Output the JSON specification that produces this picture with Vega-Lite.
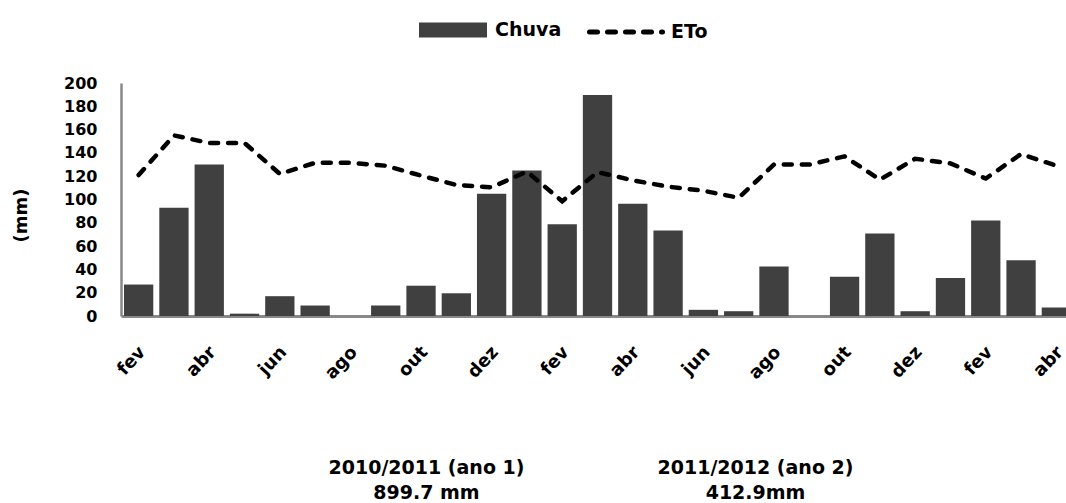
{
  "$schema": "https://vega.github.io/schema/vega-lite/v6.json",
  "width": 953,
  "height": 233,
  "autosize": {"type": "none"},
  "padding": {"left": 121, "top": 83, "right": 0, "bottom": 187},
  "background": "white",
  "config": {"view": {"stroke": null}, "font": "DejaVu Sans"},
  "data": {
    "values": [
      {"mes": "fev/10", "chuva": 27, "eto": 121},
      {"mes": "mar/10", "chuva": 93, "eto": 155},
      {"mes": "abr/10", "chuva": 130, "eto": 148.5},
      {"mes": "mai/10", "chuva": 2, "eto": 148.5},
      {"mes": "jun/10", "chuva": 17, "eto": 122},
      {"mes": "jul/10", "chuva": 9, "eto": 131.5},
      {"mes": "ago/10", "chuva": 0, "eto": 131.5},
      {"mes": "set/10", "chuva": 9, "eto": 129},
      {"mes": "out/10", "chuva": 26, "eto": 120.5},
      {"mes": "nov/10", "chuva": 19.5, "eto": 112.5},
      {"mes": "dez/10", "chuva": 105, "eto": 110.5},
      {"mes": "jan/11", "chuva": 125, "eto": 124},
      {"mes": "fev/11", "chuva": 78.7, "eto": 98.5},
      {"mes": "mar/11", "chuva": 189.6, "eto": 123.5},
      {"mes": "abr/11", "chuva": 96.3, "eto": 116.5},
      {"mes": "mai/11", "chuva": 73.4, "eto": 111},
      {"mes": "jun/11", "chuva": 5.3, "eto": 107.5},
      {"mes": "jul/11", "chuva": 4.1, "eto": 101.5},
      {"mes": "ago/11", "chuva": 42.5, "eto": 130},
      {"mes": "set/11", "chuva": 0, "eto": 130},
      {"mes": "out/11", "chuva": 33.6, "eto": 137},
      {"mes": "nov/11", "chuva": 70.8, "eto": 117},
      {"mes": "dez/11", "chuva": 4.1, "eto": 135},
      {"mes": "jan/12", "chuva": 32.7, "eto": 131},
      {"mes": "fev/12", "chuva": 82, "eto": 118},
      {"mes": "mar/12", "chuva": 47.9, "eto": 139},
      {"mes": "abr/12", "chuva": 7.3, "eto": 129}
    ]
  },
  "encoding": {
    "x": {
      "field": "mes",
      "type": "ordinal",
      "sort": null,
      "scale": {"paddingInner": 0.17, "paddingOuter": 0.085},
      "axis": {
        "values": ["fev/10", "abr/10", "jun/10", "ago/10", "out/10", "dez/10", "fev/11", "abr/11", "jun/11", "ago/11", "out/11", "dez/11", "fev/12", "abr/12"],
        "labelExpr": "substring(datum.label, 0, 3)",
        "labelAngle": -47,
        "labelAlign": "right",
        "labelBaseline": "middle",
        "labelPadding": 33,
        "labelOffset": 4,
        "labelFont": "DejaVu Sans",
        "labelFontWeight": "bold",
        "labelFontSize": 18,
        "labelColor": "black",
        "ticks": false,
        "tickSize": 0,
        "domainColor": "#888888",
        "domainWidth": 3,
        "grid": false,
        "title": ["2010/2011 (ano 1)", "899.7 mm"],
        "titleFont": "DejaVu Sans",
        "titleFontWeight": "bold",
        "titleFontSize": 19,
        "titleColor": "black",
        "titleX": 305,
        "titleY": 157,
        "titleAlign": "center",
        "titleAnchor": null,
        "titleBaseline": "alphabetic",
        "titleLineHeight": 25
      }
    }
  },
  "layer": [
    {
      "mark": {"type": "bar", "color": "#404040"},
      "encoding": {
        "y": {
          "field": "chuva",
          "type": "quantitative",
          "scale": {"domain": [0, 200], "nice": false},
          "axis": {
            "values": [0, 20, 40, 60, 80, 100, 120, 140, 160, 180, 200],
            "labelFont": "DejaVu Sans",
            "labelFontWeight": "bold",
            "labelFontSize": 16,
            "labelColor": "black",
            "labelPadding": 24,
            "ticks": false,
            "tickSize": 0,
            "grid": false,
            "domainColor": "#888888",
            "domainWidth": 2.5,
            "labelOverlap": false,
            "title": "(mm)",
            "titleFont": "DejaVu Sans",
            "titleFontWeight": "bold",
            "titleFontSize": 18,
            "titleColor": "black",
            "titleX": -100,
            "titleY": 132,
            "titleAngle": -90,
            "titleAlign": "center",
            "titleBaseline": "middle"
          }
        },
        "color": {
          "datum": "Chuva",
          "scale": {"range": ["#404040"]},
          "legend": {
            "orient": "none",
            "legendX": 297,
            "legendY": -88,
            "title": null,
            "symbolType": "M-1,-0.22H1V0.22H-1Z",
            "symbolSize": 4624,
            "labelOffset": 7,
            "labelFont": "DejaVu Sans",
            "labelFontWeight": "bold",
            "labelFontSize": 19,
            "labelColor": "black"
          }
        }
      }
    },
    {
      "mark": {"type": "line", "color": "black", "strokeWidth": 4.5, "strokeCap": "round"},
      "encoding": {
        "y": {
          "field": "eto",
          "type": "quantitative",
          "scale": {"domain": [0, 200], "nice": false},
          "axis": {
            "orient": "right",
            "domain": false,
            "ticks": false,
            "labels": false,
            "grid": false,
            "title": ["2011/2012 (ano 2)", "412.9mm"],
            "titleFont": "DejaVu Sans",
            "titleFontWeight": "bold",
            "titleFontSize": 19,
            "titleColor": "black",
            "titleAngle": 0,
            "titleX": -319,
            "titleY": 390,
            "titleAlign": "center",
            "titleBaseline": "alphabetic",
            "titleLineHeight": 25
          }
        },
        "strokeDash": {
          "datum": "ETo",
          "scale": {"range": [[8, 10]]},
          "legend": {
            "orient": "none",
            "legendX": 466,
            "legendY": -90,
            "title": null,
            "symbolType": "stroke",
            "symbolSize": 5329,
            "symbolStrokeWidth": 5,
            "symbolStrokeColor": "black",
            "labelOffset": 6,
            "labelFont": "DejaVu Sans",
            "labelFontWeight": "bold",
            "labelFontSize": 19,
            "labelColor": "black",
            "encode": {"symbols": {"update": {"strokeCap": {"value": "round"}}}}
          }
        }
      }
    }
  ],
  "resolve": {"scale": {"y": "independent"}}
}
